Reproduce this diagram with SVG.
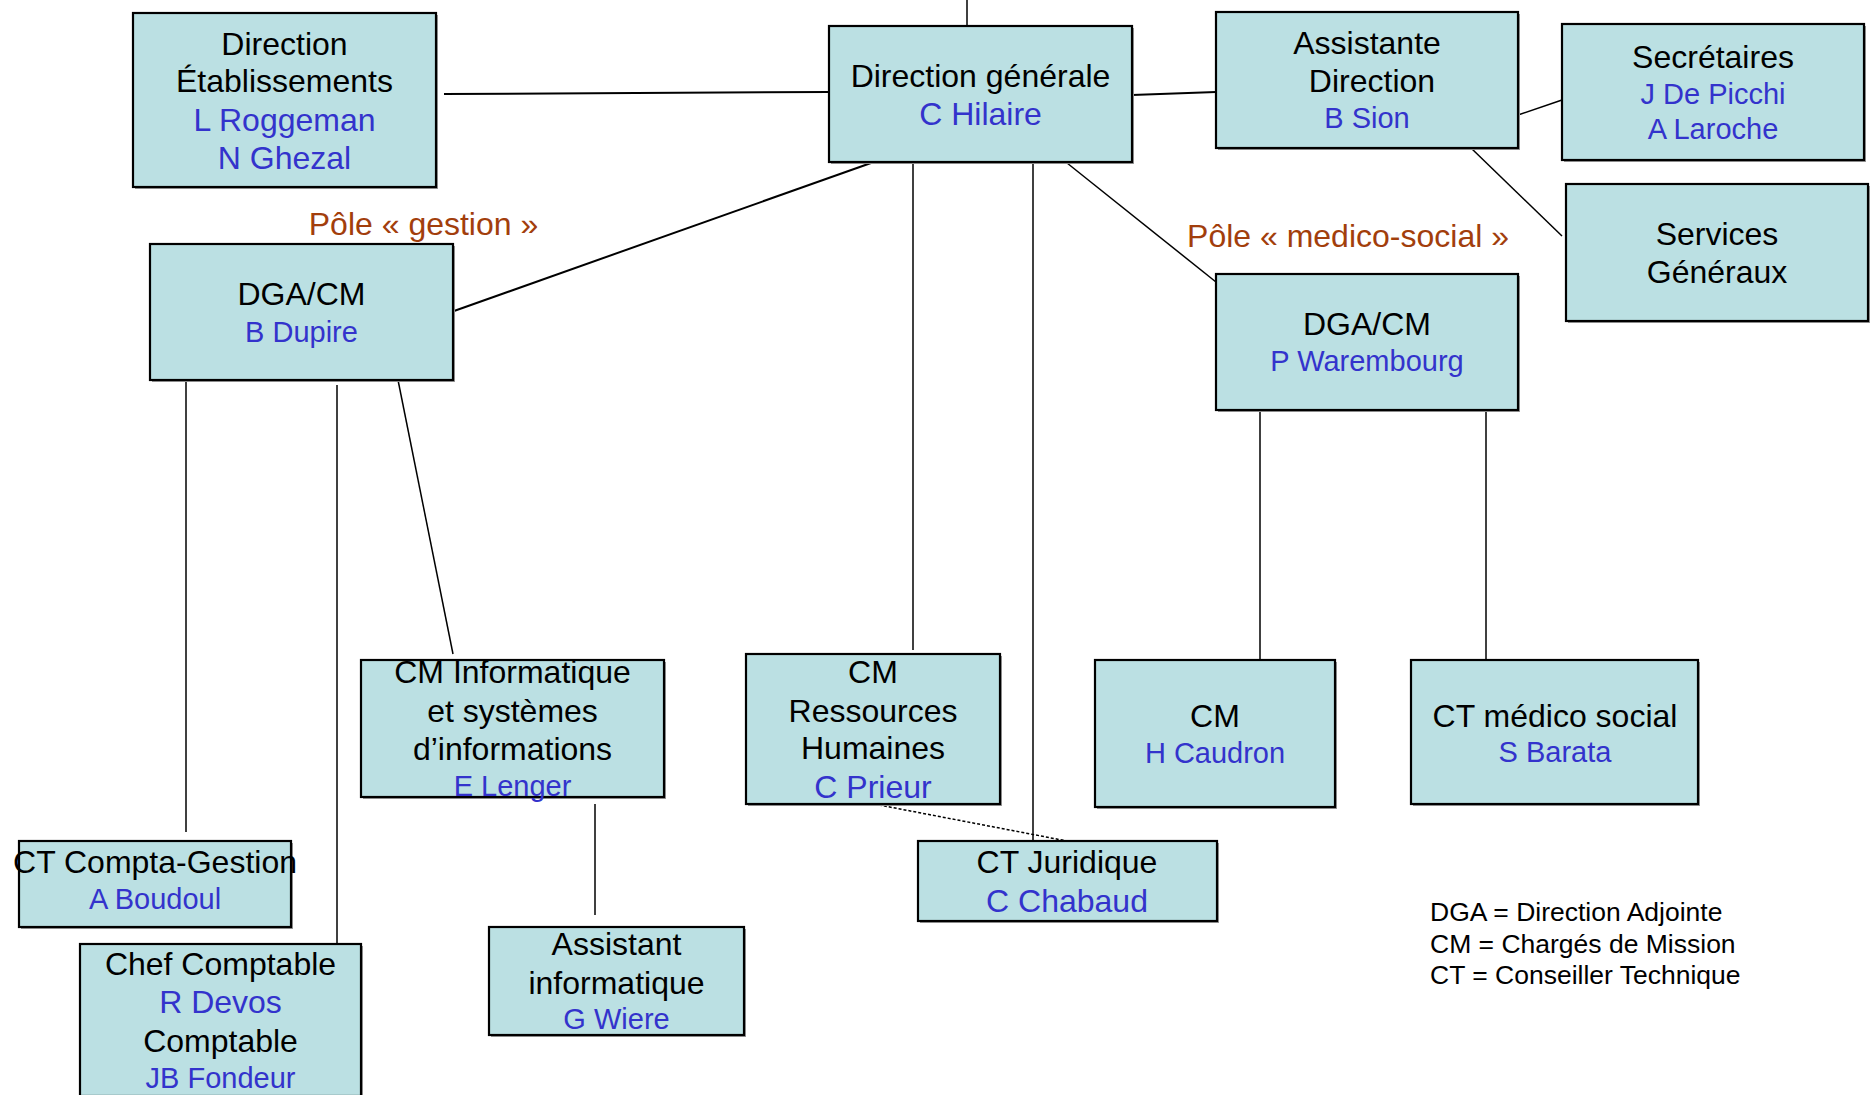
<svg xmlns="http://www.w3.org/2000/svg" width="1874" height="1095" viewBox="0 0 1874 1095">
<style>
  .box { fill: #BBE0E3; stroke: #000; stroke-width: 2.2; }
  .sh { fill: #9a9a9a; }
  text { font-family: "Liberation Sans", Arial, sans-serif; text-anchor: middle; }
  .t { font-size: 32px; fill: #000; }
  .n { font-size: 32px; fill: #3333CC; }
  .s { font-size: 29px; fill: #3333CC; }
  .pole { font-size: 32px; fill: #A23E0C; }
  .leg { font-size: 26.5px; fill: #000; text-anchor: start; }
  .c { stroke: #000; stroke-width: 1.5; fill: none; }
  .c2 { stroke: #000; stroke-width: 2; fill: none; }
  .d { stroke: #000; stroke-width: 1.5; stroke-dasharray: 3 2; fill: none; }
</style>
<rect width="1874" height="1095" fill="#fff"/>
<g id="connectors">
  <line class="c" x1="967" y1="0" x2="967" y2="26"/>
  <line class="c2" x1="444" y1="94" x2="829" y2="92"/>
  <line class="c2" x1="1132" y1="95" x2="1216" y2="92"/>
  <line class="c" x1="1518" y1="115" x2="1562" y2="100"/>
  <line class="c" x1="1471" y1="148" x2="1562" y2="236"/>
  <line class="c2" x1="871" y1="163" x2="454" y2="311"/>
  <line class="c" x1="1067" y1="163" x2="1216" y2="282"/>
  <line class="c" x1="913" y1="162" x2="913" y2="650"/>
  <line class="c" x1="1033" y1="162" x2="1033" y2="840"/>
  <line class="c" x1="186" y1="380" x2="186" y2="832"/>
  <line class="c" x1="337" y1="385" x2="337" y2="948"/>
  <line class="c" x1="398" y1="380" x2="453" y2="654"/>
  <line class="c" x1="1260" y1="410" x2="1260" y2="660"/>
  <line class="c" x1="1486" y1="410" x2="1486" y2="660"/>
  <line class="c" x1="595" y1="804" x2="595" y2="915"/>
  <line class="d" x1="874" y1="804" x2="1067" y2="841"/>
</g>
<g id="n-dir-etab">
  <rect class="sh" x="135" y="15" width="303" height="174"/>
  <rect class="box" x="133" y="13" width="303" height="174"/>
  <text class="t" x="284.5" y="55">Direction</text>
  <text class="t" x="284.5" y="92">Établissements</text>
  <text class="n" x="284.5" y="131">L Roggeman</text>
  <text class="n" x="284.5" y="169">N Ghezal</text>
</g>
<g id="n-dg">
  <rect class="sh" x="831" y="28" width="303" height="136"/>
  <rect class="box" x="829" y="26" width="303" height="136"/>
  <text class="t" x="980.5" y="87">Direction générale</text>
  <text class="n" x="980.5" y="125">C Hilaire</text>
</g>
<g id="n-assistante">
  <rect class="sh" x="1218" y="14" width="302" height="136"/>
  <rect class="box" x="1216" y="12" width="302" height="136"/>
  <text class="t" x="1367" y="54">Assistante</text>
  <text class="t" x="1372" y="92">Direction</text>
  <text class="s" x="1367" y="128">B Sion</text>
</g>
<g id="n-secretaires">
  <rect class="sh" x="1564" y="26" width="302" height="136"/>
  <rect class="box" x="1562" y="24" width="302" height="136"/>
  <text class="t" x="1713" y="68">Secrétaires</text>
  <text class="s" x="1713" y="104">J De Picchi</text>
  <text class="s" x="1713" y="139">A Laroche</text>
</g>
<g id="n-services">
  <rect class="sh" x="1568" y="186" width="302" height="137"/>
  <rect class="box" x="1566" y="184" width="302" height="137"/>
  <text class="t" x="1717" y="245">Services</text>
  <text class="t" x="1717" y="283">Généraux</text>
</g>
<g id="n-pole-gestion">
  <text class="pole" x="423.5" y="235">Pôle « gestion »</text>
</g>
<g id="n-pole-medico">
  <text class="pole" x="1348" y="247">Pôle « medico-social »</text>
</g>
<g id="n-dga-dupire">
  <rect class="sh" x="152" y="246" width="303" height="136"/>
  <rect class="box" x="150" y="244" width="303" height="136"/>
  <text class="t" x="301.5" y="305">DGA/CM</text>
  <text class="s" x="301.5" y="342">B Dupire</text>
</g>
<g id="n-dga-warembourg">
  <rect class="sh" x="1218" y="276" width="302" height="136"/>
  <rect class="box" x="1216" y="274" width="302" height="136"/>
  <text class="t" x="1367" y="335">DGA/CM</text>
  <text class="s" x="1367" y="371">P Warembourg</text>
</g>
<g id="n-cm-info">
  <rect class="sh" x="363" y="662" width="303" height="137"/>
  <rect class="box" x="361" y="660" width="303" height="137"/>
  <text class="t" x="512.5" y="683">CM Informatique</text>
  <text class="t" x="512.5" y="722">et systèmes</text>
  <text class="t" x="512.5" y="760">d’informations</text>
  <text class="s" x="512.5" y="796">E Lenger</text>
</g>
<g id="n-cm-rh">
  <rect class="sh" x="748" y="656" width="254" height="150"/>
  <rect class="box" x="746" y="654" width="254" height="150"/>
  <text class="t" x="873" y="683">CM</text>
  <text class="t" x="873" y="722">Ressources</text>
  <text class="t" x="873" y="759">Humaines</text>
  <text class="n" x="873" y="798">C Prieur</text>
</g>
<g id="n-cm-caudron">
  <rect class="sh" x="1097" y="662" width="240" height="147"/>
  <rect class="box" x="1095" y="660" width="240" height="147"/>
  <text class="t" x="1215" y="727">CM</text>
  <text class="s" x="1215" y="763">H Caudron</text>
</g>
<g id="n-ct-medico">
  <rect class="sh" x="1413" y="662" width="287" height="144"/>
  <rect class="box" x="1411" y="660" width="287" height="144"/>
  <text class="t" x="1555" y="727">CT médico social</text>
  <text class="s" x="1555" y="762">S Barata</text>
</g>
<g id="n-ct-compta">
  <rect class="sh" x="21" y="843" width="272" height="86"/>
  <rect class="box" x="19" y="841" width="272" height="86"/>
  <text class="t" x="155" y="873">CT Compta-Gestion</text>
  <text class="s" x="155" y="909">A Boudoul</text>
</g>
<g id="n-chef-comptable">
  <rect class="sh" x="82" y="946" width="281" height="152"/>
  <rect class="box" x="80" y="944" width="281" height="152"/>
  <text class="t" x="220.5" y="975">Chef Comptable</text>
  <text class="n" x="220.5" y="1013">R Devos</text>
  <text class="t" x="220.5" y="1052">Comptable</text>
  <text class="s" x="220.5" y="1088">JB Fondeur</text>
</g>
<g id="n-assistant-info">
  <rect class="sh" x="491" y="929" width="255" height="108"/>
  <rect class="box" x="489" y="927" width="255" height="108"/>
  <text class="t" x="616.5" y="955">Assistant</text>
  <text class="t" x="616.5" y="994">informatique</text>
  <text class="s" x="616.5" y="1029">G Wiere</text>
</g>
<g id="n-ct-juridique">
  <rect class="sh" x="920" y="843" width="299" height="80"/>
  <rect class="box" x="918" y="841" width="299" height="80"/>
  <text class="t" x="1067" y="873">CT Juridique</text>
  <text class="n" x="1067" y="912">C Chabaud</text>
</g>
<g id="legend">
  <text class="leg" x="1430" y="921">DGA = Direction Adjointe</text>
  <text class="leg" x="1430" y="953">CM = Chargés de Mission</text>
  <text class="leg" x="1430" y="984">CT = Conseiller Technique</text>
</g>
</svg>
